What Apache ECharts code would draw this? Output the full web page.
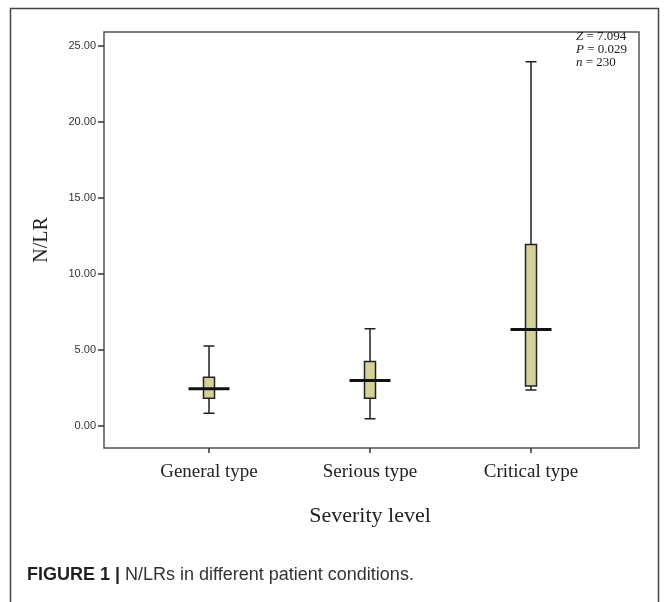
<!DOCTYPE html>
<html>
<head>
<meta charset="utf-8">
<script src="https://cdn.jsdelivr.net/npm/echarts@6/dist/echarts.min.js"></script>
<style>
  html, body { margin: 0; padding: 0; background: #fff; }
  #main { width: 670px; height: 602px; }
</style>
</head>
<body>
<div id="main"></div>
<script>
// data
var categories = ['General type', 'Serious type', 'Critical type'];
// [min, Q1, median, Q3, max]
var boxGeneral = [0.83, 1.82, 2.43, 3.2, 5.25];
var boxSerious = [0.46, 1.82, 2.98, 4.23, 6.39];
var boxCritical = [2.36, 2.62, 6.33, 11.92, 23.94];
var medians = [2.43, 2.98, 6.33];
var yTicks = [0, 5, 10, 15, 20, 25];
var statsLines = [['Z', ' = 7.094'], ['P', ' = 0.029'], ['n', ' = 230']];

var myChart = echarts.init(document.getElementById('main'));

var serif = '"Liberation Serif", "DejaVu Serif", serif';
var sans = '"Liberation Sans", Arial, sans-serif';

var statsGraphics = statsLines.map(function (l, i) {
    return {
        type: 'text',
        left: 576,
        top: 30 + i * 13,
        style: {
            text: '{i|' + l[0] + '}' + l[1],
            font: '13px ' + serif,
            fill: '#222',
            rich: {
                i: { fontStyle: 'italic', fontFamily: serif, fontSize: 13, fill: '#222' }
            }
        }
    };
});

var option = {
    backgroundColor: '#fff',
    animation: false,
    grid: [
        { left: 104, top: 32, width: 535, height: 416, show: true, borderColor: '#555', borderWidth: 1.5, backgroundColor: 'transparent' },
        { left: 128.5, top: 32, width: 483, height: 416 }
    ],
    xAxis: [
        { gridIndex: 0, type: 'value', min: 0, max: 1, show: false },
        {
            gridIndex: 1,
            type: 'category',
            data: categories,
            boundaryGap: true,
            axisLine: { show: false, onZero: false },
            axisTick: { show: true, alignWithLabel: true, length: 5, lineStyle: { color: '#333', width: 1.5 } },
            axisLabel: { margin: 15, fontFamily: serif, fontSize: 19, color: '#222' },
            name: 'Severity level',
            nameLocation: 'middle',
            nameGap: 57,
            nameTextStyle: { fontFamily: serif, fontSize: 22, color: '#222' },
            splitLine: { show: false }
        }
    ],
    yAxis: [
        {
            gridIndex: 0,
            type: 'value',
            min: -1.46,
            max: 25.9,
            axisLine: { show: false },
            axisTick: { show: true, length: 6, customValues: yTicks, lineStyle: { color: '#333', width: 1.5 } },
            axisLabel: {
                customValues: yTicks,
                margin: 8,
                fontFamily: sans,
                fontSize: 11,
                color: '#333',
                formatter: function (v) { return v.toFixed(2); }
            },
            splitLine: { show: false },
            name: 'N/LR',
            nameLocation: 'middle',
            nameRotate: 90,
            nameGap: 52,
            nameTextStyle: { fontFamily: serif, fontSize: 20, color: '#222' }
        },
        { gridIndex: 1, type: 'value', min: -1.46, max: 25.9, show: false }
    ],
    series: [
        {
            type: 'boxplot',
            xAxisIndex: 1,
            yAxisIndex: 1,
            boxWidth: [11, 11],
            itemStyle: { color: '#d6d09a', borderColor: '#222', borderWidth: 1.5 },
            data: [boxGeneral, boxSerious, boxCritical]
        },
        {
            type: 'scatter',
            xAxisIndex: 1,
            yAxisIndex: 1,
            symbol: 'rect',
            symbolSize: [41, 3],
            itemStyle: { color: '#111', opacity: 1 },
            data: medians.map(function (m, i) { return [i, m]; }),
            z: 5
        }
    ],
    graphic: [
        {
            type: 'polyline',
            shape: { points: [[10.5, 602], [10.5, 8.5], [658.5, 8.5], [658.5, 602]] },
            style: { stroke: '#444', lineWidth: 1.5, fill: null }
        },
        {
            type: 'text',
            left: 27,
            top: 566,
            style: {
                text: '{b|FIGURE 1 |} N/LRs in different patient conditions.',
                font: '18px ' + sans,
                fill: '#333',
                rich: {
                    b: { fontWeight: 'bold', fontFamily: sans, fontSize: 18, fill: '#231f20' }
                }
            }
        }
    ].concat(statsGraphics)
};

myChart.setOption(option);
</script>
</body>
</html>
